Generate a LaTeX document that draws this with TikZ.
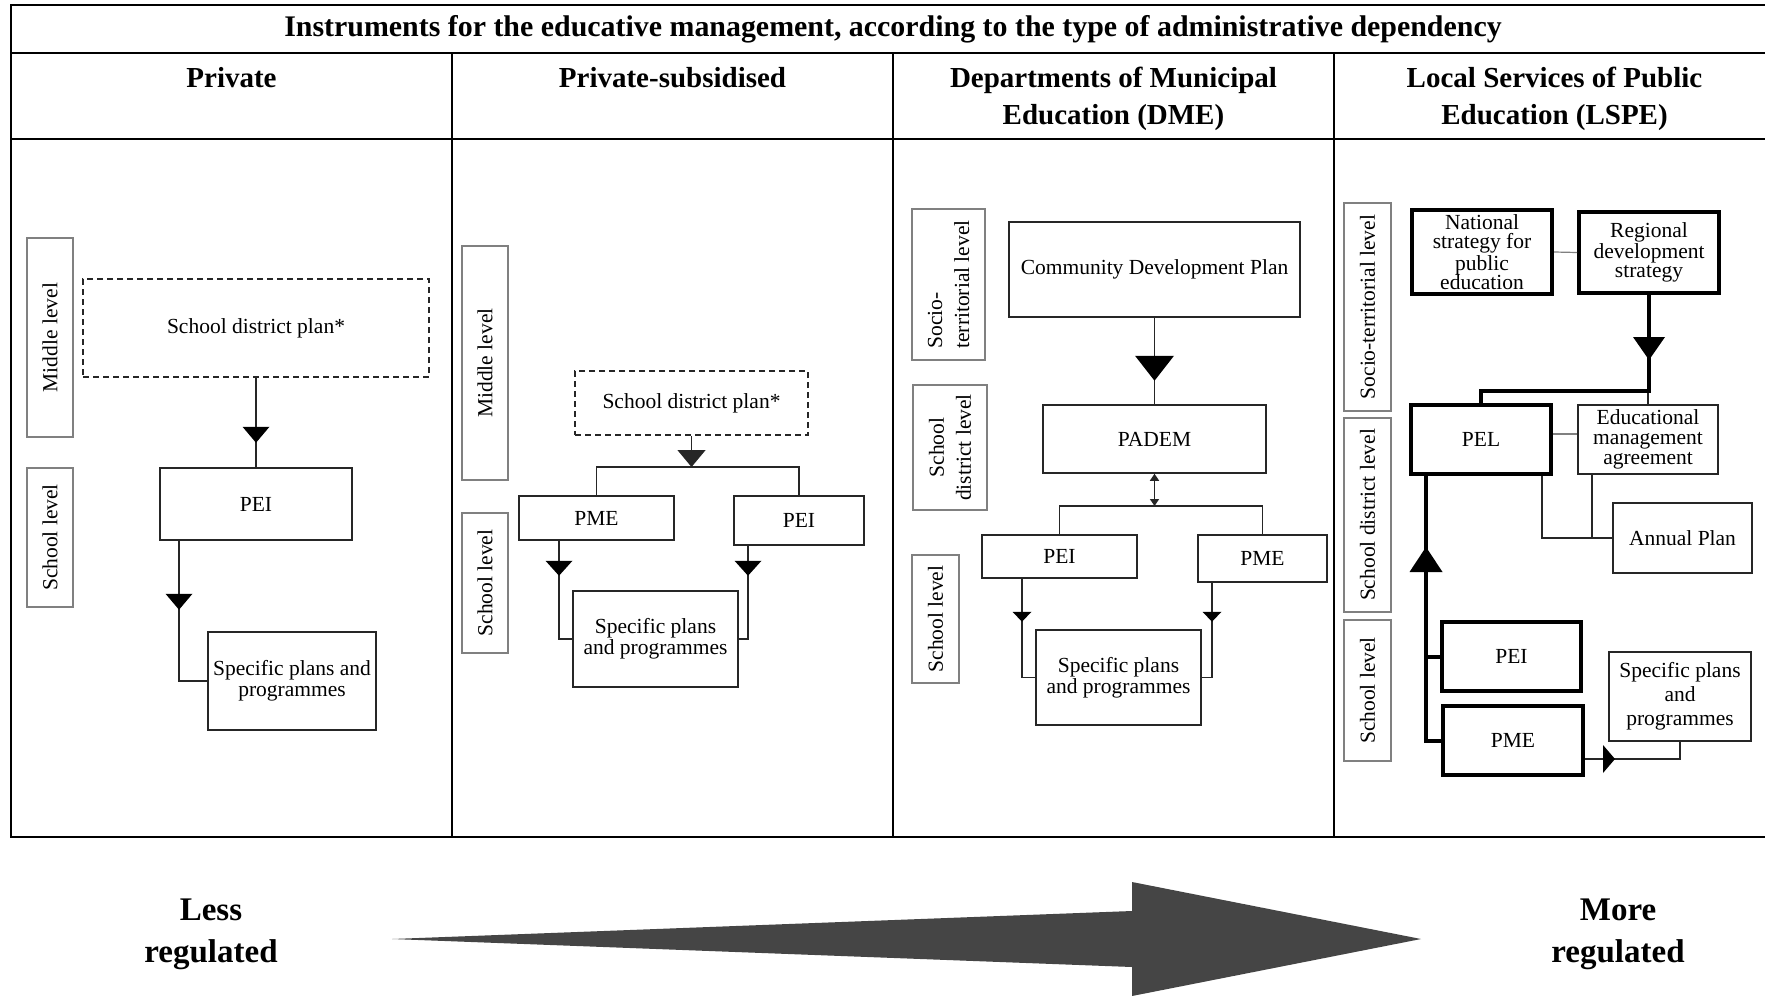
\documentclass[tikz,border=0pt]{standalone}
\usepackage{fontspec}
\setmainfont{Liberation Serif}
\usetikzlibrary{arrows.meta,decorations.markings,calc}
\begin{document}
\begin{tikzpicture}[x=0.5pt,y=-0.5pt,
  box/.style={draw=black!85, line width=0.75pt, inner sep=1pt, align=center, font=\fontsize{10.75}{10.5}\selectfont},
  tbox/.style={box, line width=2pt, draw=black},
  dbox/.style={box, dash pattern=on 3pt off 2pt},
  lvl/.style={draw=black!50, line width=0.6pt, rotate=90, inner sep=0pt, align=center, font=\fontsize{10.75}{13.5}\selectfont},
  conn/.style={line width=0.75pt, draw=black!85},
  tconn/.style={line width=2pt, draw=black},
  gconn/.style={line width=0.6pt, draw=black!50},
  mid/.style n args={3}{postaction={decorate,decoration={markings,mark=at position #1 with {\fill[black] (0,0) -- (-#3,#2/2) -- (-#3,-#2/2) -- cycle;}}}},
  hdr/.style={font=\bfseries\fontsize{14.5}{18.5}\selectfont, align=center, inner sep=0pt, anchor=base},
  reg/.style={font=\bfseries\fontsize{16.5}{20.8}\selectfont, align=center, inner sep=0pt, anchor=base}
]
\path[use as bounding box, fill=white] (0,0) rectangle (1765,995);

% table
\draw[line width=1pt] (11,5) rectangle (1775,837);
\draw[line width=1pt] (11,53) -- (1775,53);
\draw[line width=1pt] (11,139) -- (1775,139);
\foreach \x in {452,893,1334} \draw[line width=1pt] (\x,53) -- (\x,837);

\node[hdr, font=\bfseries\fontsize{14.95}{18.5}\selectfont] (title) at (893,37) {Instruments for the educative management, according to the type of administrative dependency};
\node[hdr] (h1) at (231.5,87.5) {Private};
\node[hdr] (h2) at (672.5,87.5) {Private-subsidised};
\node[hdr] (h3) at (1113.5,124.5) {Departments of Municipal\\Education (DME)};
\node[hdr] (h4) at (1554.5,124.5) {Local Services of Public\\Education (LSPE)};

% panel 1
\node[lvl, minimum width=99.5pt, minimum height=23pt] (m1) at (50,337.5) {Middle level};
\node[lvl, minimum width=69.5pt, minimum height=23pt] (s1) at (50,537.5) {School level};
\node[dbox, minimum width=173pt, minimum height=49pt] (sdp1) at (256,328) {School district plan*};
\node[box, minimum width=96pt, minimum height=36pt] (pei1) at (256,504) {PEI};
\node[box, minimum width=84pt, minimum height=49pt] (spec1) at (292,681) {Specific plans and\\programmes};
\coordinate (x1) at (179,0);
\draw[conn, mid={32.5pt}{27}{16}] (sdp1.south) -- (pei1.north);
\draw[conn, mid={34.5pt}{27}{16}] (x1 |- pei1.south) |- (spec1.west);

% panel 2
\node[lvl, minimum width=117pt, minimum height=23pt] (m2) at (485,363) {Middle level};
\node[lvl, minimum width=70pt, minimum height=23pt] (s2) at (485,583) {School level};
\node[dbox, minimum width=116.5pt, minimum height=32pt] (sdp2) at (691.5,403) {School district plan*};
\node[box, minimum width=77.5pt, minimum height=22pt] (pme2) at (596.5,518) {PME};
\node[box, minimum width=65pt, minimum height=24.5pt] (pei2) at (799,520.5) {PEI};
\node[box, minimum width=82.5pt, minimum height=48pt] (spec2) at (655.5,639) {Specific plans\\and programmes};
\coordinate (j2) at (691.5,467);
\draw[conn] (pme2.north) |- (j2) -| (pei2.north);
\draw[conn, -{Triangle[width=14pt,length=8.5pt]}] (sdp2.south) -- (j2);
\coordinate (xa2) at (559,0);
\coordinate (xb2) at (748,0);
\draw[conn, mid={17.5pt}{27}{15}] (xa2 |- pme2.south) |- (spec2.west);
\draw[conn, mid={15pt}{27}{15}] (xb2 |- pei2.south) |- (spec2.east);

% panel 3
\node[lvl, align=left, minimum width=75.5pt, minimum height=36.5pt] (a3) at (948.5,284.5) {Socio-\\territorial level};
\node[lvl, minimum width=62.5pt, minimum height=37pt] (b3) at (950,447.5) {School\\district level};
\node[lvl, minimum width=64pt, minimum height=23.5pt] (c3) at (935.5,619) {School level};
\node[box, minimum width=145.5pt, minimum height=47.5pt] (cdp) at (1154.5,269.5) {Community Development Plan};
\node[box, minimum width=111.5pt, minimum height=34pt] (padem) at (1154.5,439) {PADEM};
\node[box, minimum width=77.5pt, minimum height=21.5pt] (pei3) at (1059.5,556.5) {PEI};
\node[box, minimum width=64.5pt, minimum height=23.5pt] (pme3) at (1262.5,558.5) {PME};
\node[box, minimum width=82.5pt, minimum height=47.5pt] (spec3) at (1118.5,677.5) {Specific plans\\and programmes};
\coordinate (j3) at (1154.5,506);
\draw[conn, mid={31.5pt}{39}{25}] (cdp.south) -- (padem.north);
\draw[conn, {Triangle[width=4.5pt,length=3.5pt]}-{Triangle[width=4.5pt,length=3.5pt]}] (padem.south) -- (j3);
\draw[conn] (pei3.north) |- (j3) -| (pme3.north);
\coordinate (xa3) at (1022,0);
\coordinate (xb3) at (1212,0);
\draw[conn, mid={21.5pt}{19}{10}] (xa3 |- pei3.south) |- (spec3.west);
\draw[conn, mid={19.5pt}{19}{10}] (xb3 |- pme3.south) |- (spec3.east);

% panel 4
\node[lvl, minimum width=104pt, minimum height=23.5pt] (a4) at (1367.5,307) {Socio-territorial level};
\node[lvl, minimum width=97pt, minimum height=23.5pt] (b4) at (1367.5,515) {School district level};
\node[lvl, minimum width=70.5pt, minimum height=23.5pt] (c4) at (1367.5,690.5) {School level};
\node[tbox, minimum width=70pt, minimum height=42pt, font=\fontsize{10.75}{9.75}\selectfont] (nat) at (1482,252) {National\\strategy for\\public\\education};
\node[tbox, minimum width=70pt, minimum height=40.5pt, font=\fontsize{10.75}{9.5}\selectfont] (rgn) at (1649,252.5) {Regional\\development\\strategy};
\node[tbox, minimum width=70pt, minimum height=34.5pt] (pel) at (1481,439.5) {PEL};
\node[box, minimum width=70pt, minimum height=34.5pt, font=\fontsize{10.75}{10}\selectfont] (edu) at (1648,439.5) {Educational\\management\\agreement};
\node[box, minimum width=69.5pt, minimum height=35pt] (ann) at (1682.5,538) {Annual Plan};
\node[tbox, minimum width=69.5pt, minimum height=34.5pt] (pei4) at (1511.5,656.5) {PEI};
\node[tbox, minimum width=70pt, minimum height=34.5pt] (pme4) at (1513,740.5) {PME};
\node[box, minimum width=71pt, minimum height=44.5pt, font=\fontsize{10.75}{12}\selectfont] (spec4) at (1680,696.5) {Specific plans\\and\\programmes};
\coordinate (j4) at (1649,391);
\coordinate (xp4) at (1426,0);
\coordinate (xq4) at (1542,0);
\coordinate (xr4) at (1592,0);
\draw[gconn] (nat.east) -- (rgn.west);
\draw[conn] (edu.north) -- (edu.north |- j4);
\draw[tconn, mid={32.5pt}{32}{23}] (rgn.south) |- (pel.north |- j4) -- (pel.north);
\draw[gconn] ($(pel.east)+(0,-5.5)$) -- ($(edu.west)+(0,-5.5)$);
\draw[conn] (xq4 |- pel.south) |- (ann.west);
\draw[conn] (xr4 |- edu.south) -- (xr4 |- ann.west);
\draw[tconn, mid={-35.5pt}{33}{25}] (pme4.west) -| (xp4 |- pel.south);
\draw[tconn] (pei4.west) -- (xp4 |- pei4.west);
\draw[conn, mid={15pt}{28}{12}] ($(pme4.south east)+(0,-18)$) -| (spec4.south);

% bottom
\node[reg] (less) at (211,962.5) {Less\\regulated};
\node[reg] (more) at (1618,962.5) {More\\regulated};
\fill[black!73] (392,939) -- (1132,911) -- (1132,882) -- (1421,939) -- (1132,996) -- (1132,967) -- cycle;
\end{tikzpicture}
\end{document}
